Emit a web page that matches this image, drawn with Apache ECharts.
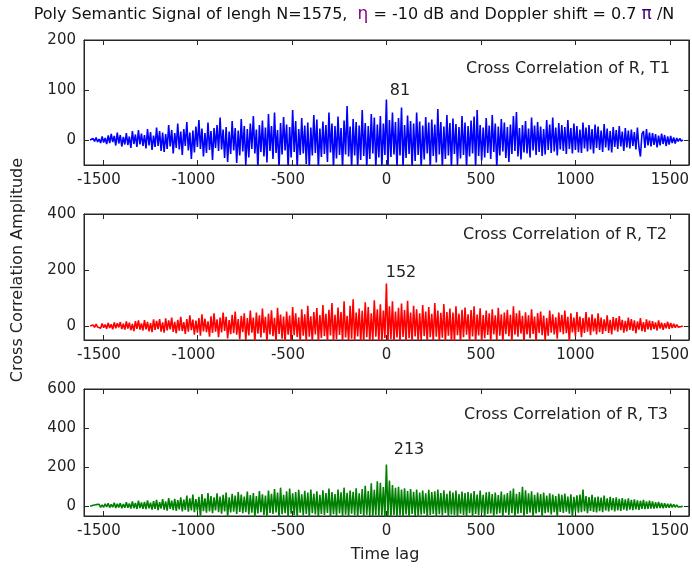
<!DOCTYPE html>
<html><head><meta charset="utf-8">
<script src="https://cdn.jsdelivr.net/npm/echarts@6/dist/echarts.min.js"></script>
<style>html,body{margin:0;padding:0;background:#fff}#c{width:692px;height:569px}</style>
</head><body><div id="c"></div>
<script>
// lag axis: first lag and spacing of the samples below
const LAG_START = -1568, LAG_STEP = 8;
const xTicks = [-1500, -1000, -500, 0, 500, 1000, 1500];
const yTicks1 = [0, 100, 200];
const yTicks2 = [0, 200, 400];
const yTicks3 = [0, 200, 400, 600];
const names = ['Cross Correlation of R, T1', 'Cross Correlation of R, T2', 'Cross Correlation of R, T3'];

const corrT1 = [
0,-2,3,-3,5,-4,2,-6,7,-5,4,-8,
9,-6,12,-4,8,-11,15,-7,10,-13,6,-9,
14,-10,7,-16,18,-8,11,-14,20,-9,13,-12,
10,-17,22,-11,16,-20,9,-14,25,-12,18,-22,
15,-24,12,-18,30,-13,20,-27,14,-16,33,-19,
17,-30,22,-12,36,-21,15,-38,19,-25,27,-14,
40,-18,23,-33,14,-26,35,-20,18,-40,24,-16,
30,-22,45,-19,21,-36,26,-44,17,-28,38,-21,
24,-46,19,-31,42,-23,28,-50,22,-35,33,-18,
48,-27,21,-56,30,-24,39,-33,25,-45,52,-22,
28,-38,55,-26,20,-56,34,-29,46,-21,31,-56,
26,-35,60,-24,38,-56,22,-30,44,-27,29,-48,
35,-56,25,-31,50,-26,41,-56,23,-34,37,-28,
30,-44,55,-25,33,-56,28,-37,47,-30,24,-56,
39,-29,68,-33,27,-56,42,-31,36,-56,29,-40,
60,-32,34,-56,28,-38,52,-27,45,-56,31,-35,
48,-56,33,-30,81,-56,40,-34,55,-29,36,-56,
44,-31,65,-56,30,-36,49,-28,38,-56,33,-42,
55,-30,37,-56,29,-39,46,-27,35,-56,41,-32,
31,-45,62,-29,36,-56,27,-38,50,-31,34,-56,
43,-28,32,-50,26,-37,48,-30,35,-56,28,-33,
39,-27,47,-56,60,-32,30,-41,25,-35,44,-26,
29,-38,50,-24,33,-56,27,-31,42,-23,35,-36,
26,-44,31,-28,48,-22,56,-33,24,-39,30,-25,
38,-27,23,-35,45,-21,29,-30,36,-24,27,-32,
22,-29,40,-20,31,-26,45,-23,25,-31,34,-19,
30,-22,26,-28,40,-18,24,-27,33,-20,28,-25,
21,-26,35,-17,25,-23,30,-19,22,-27,31,-16,
27,-20,19,-24,32,-15,23,-21,18,-25,26,-14,
20,-18,28,-13,17,-22,24,-15,19,-17,21,-12,
16,-19,25,-14,-33,12,18,-16,22,-11,15,-13,
14,-10,12,-15,9,-11,13,-8,10,-12,7,-9,
8,-6,5,-7,4,-3,3,-2,0];

const corrT2 = [
0,-3,4,-5,7,-4,3,-8,9,-6,5,-10,
11,-7,6,-12,13,-8,10,-5,14,-11,8,-13,
16,-9,12,-15,7,-18,17,-10,20,-13,9,-16,
21,-12,15,-19,10,-22,24,-14,18,-11,25,-20,
13,-24,27,-16,20,-12,30,-21,15,-26,22,-17,
33,-18,14,-28,25,-20,38,-15,23,-31,19,-24,
28,-35,42,-19,26,-22,17,-38,35,-25,45,-20,
24,-40,30,-23,48,-18,33,-44,21,-29,40,-26,
52,-31,25,-47,36,-22,45,-50,28,-34,55,-24,
30,-58,48,-27,38,-41,62,-25,33,-58,44,-30,
56,-36,29,-58,65,-28,41,-45,34,-58,52,-31,
37,-58,68,-33,45,-39,31,-58,60,-35,42,-58,
72,-38,35,-58,50,-30,64,-58,39,-43,75,-36,
44,-58,58,-34,82,-58,40,-47,66,-32,50,-58,
88,-41,36,-58,72,-45,95,-58,48,-37,62,-58,
54,-58,85,-40,68,-58,45,-52,92,-38,60,-58,
78,-58,55,-43,152,-58,70,-46,88,-58,52,-41,
65,-58,80,-39,57,-58,90,-44,48,-58,72,-37,
60,-58,45,-50,75,-36,52,-58,68,-40,44,-58,
82,-38,55,-58,47,-42,78,-58,50,-35,62,-58,
48,-58,70,-33,44,-58,58,-40,66,-31,42,-58,
57,-37,70,-58,41,-34,63,-58,39,-44,55,-32,
45,-58,60,-30,38,-51,65,-35,42,-58,48,-29,
58,-36,40,-58,70,-31,45,-38,55,-27,36,-58,
49,-30,38,-44,60,-28,34,-58,46,-25,52,-33,
37,-52,28,-35,55,-24,42,-30,31,-45,48,-22,
40,-29,55,-26,33,-58,45,-23,30,-36,50,-21,
34,-40,28,-25,50,-20,31,-33,42,-19,27,-30,
45,-22,30,-28,24,-18,38,-25,22,-30,32,-16,
28,-20,35,-15,22,-24,18,-19,30,-14,25,-17,
20,-26,16,-13,28,-18,14,-21,24,-12,19,-15,
17,-11,13,-16,20,-9,12,-14,10,-8,15,-10,
11,-7,8,-6,5,-4,3,-2,0];

const corrT3 = [
0,-3,5,-4,8,-2,10,-6,7,-5,12,-4,
15,-7,9,-5,18,-9,12,-6,16,-10,11,-8,
20,-8,14,-12,24,-10,17,-14,28,-9,19,-13,
22,-15,30,-11,18,-17,26,-13,33,-20,21,-12,
36,-18,25,-22,42,-14,29,-20,38,-24,31,-16,
45,-26,34,-19,55,-28,40,-21,60,-30,37,-23,
48,-55,62,-25,41,-33,68,-27,52,-36,45,-22,
66,-30,49,-38,58,-26,70,-55,46,-32,63,-28,
54,-40,72,-29,60,-35,50,-31,75,-42,57,-33,
68,-55,52,-37,78,-30,61,-44,55,-55,80,-34,
63,-39,88,-32,70,-55,95,-41,58,-36,76,-55,
90,-38,66,-45,72,-55,84,-33,61,-47,79,-40,
70,-55,85,-36,64,-42,77,-55,59,-39,82,-44,
68,-34,90,-55,73,-41,62,-48,86,-37,71,-55,
95,-43,69,-55,80,-38,74,-46,92,-55,66,-40,
88,-55,105,-44,78,-50,118,-55,84,-46,128,-55,
120,-48,98,-55,213,-50,132,-55,108,-45,95,-55,
100,-47,85,-55,92,-42,78,-55,88,-40,74,-50,
85,-55,70,-43,80,-38,66,-55,84,-44,72,-39,
76,-55,85,-41,68,-47,82,-36,64,-55,79,-42,
70,-45,80,-55,62,-38,75,-44,67,-55,72,-35,
66,-55,78,-40,60,-46,80,-34,58,-55,71,-39,
74,-37,62,-55,70,-41,57,-35,75,-55,60,-33,
68,-44,79,-36,90,-55,63,-38,72,-34,100,-55,
82,-40,66,-33,76,-55,58,-37,70,-31,62,-55,
70,-36,55,-32,66,-42,60,-30,52,-55,64,-29,
58,-34,65,-28,50,-38,61,-55,48,-27,56,-33,
60,-30,85,-26,52,-35,47,-24,58,-29,45,-32,
50,-25,44,-30,55,-22,40,-27,48,-20,42,-26,
45,-21,38,-24,42,-18,35,-22,40,-17,33,-20,
35,-16,30,-19,28,-14,33,-15,25,-13,29,-12,
24,-12,20,-10,22,-9,17,-11,15,-8,13,-7,
12,-6,9,-5,7,-4,5,-2,0];

const allSeries = [corrT1, corrT2, corrT3];
const yTickSets = [yTicks1, yTicks2, yTicks3];
const yMax = [200, 400, 600];
const colors = ['#0000ff', '#ff0000', '#008000'];

const FONT = 'DejaVu Sans';
const AX = '#262626';
const TXT = '#222222';

const gridsPos = [
  { top: 40, height: 125 },
  { top: 214, height: 126 },
  { top: 389, height: 127 }
];

const grid = [], xAxis = [], yAxis = [], series = [];
const fmtY = v => String(v);
// negative tick labels: digits centred on the tick, minus sign hanging to the left
const fmtX = v => v < 0 ? '{neg|' + v + '}' : '{pos|' + v + '}';
const lblFont = { color: TXT, fontFamily: FONT, fontSize: 15 };
gridsPos.forEach((g, i) => {
  grid.push({ left: 84, width: 606, top: g.top, height: g.height, show: true,
    borderColor: AX, borderWidth: 1, backgroundColor: '#fff' });
  const tickStyle = { inside: true, length: 5, lineStyle: { color: AX, width: 1 } };
  xAxis.push({ gridIndex: i, type: 'value', min: -1600, max: 1600, position: 'bottom',
    axisLine: { show: true, onZero: false, lineStyle: { color: AX } },
    axisTick: Object.assign({ customValues: xTicks }, tickStyle),
    axisLabel: Object.assign({ customValues: xTicks, formatter: fmtX, margin: 8,
      rich: { neg: Object.assign({ padding: [0, 8, 0, 0] }, lblFont), pos: Object.assign({}, lblFont) } }, lblFont),
    splitLine: { show: false } });
  xAxis.push({ gridIndex: i, type: 'value', min: -1600, max: 1600, position: 'top',
    axisLine: { show: true, onZero: false, lineStyle: { color: AX } },
    axisTick: Object.assign({ customValues: xTicks }, tickStyle),
    axisLabel: { show: false }, splitLine: { show: false } });
  yAxis.push({ gridIndex: i, type: 'value', min: -50, max: yMax[i], position: 'left',
    axisLine: { show: true, onZero: false, lineStyle: { color: AX } },
    axisTick: Object.assign({ customValues: yTickSets[i] }, tickStyle),
    axisLabel: Object.assign({ customValues: yTickSets[i], formatter: fmtY, margin: 8 }, lblFont),
    splitLine: { show: false } });
  yAxis.push({ gridIndex: i, type: 'value', min: -50, max: yMax[i], position: 'right',
    axisLine: { show: true, onZero: false, lineStyle: { color: AX } },
    axisTick: Object.assign({ customValues: yTickSets[i] }, tickStyle),
    axisLabel: { show: false }, splitLine: { show: false } });
  const vals = allSeries[i];
  series.push({ name: names[i], type: 'line', xAxisIndex: i * 2, yAxisIndex: i * 2,
    data: vals.map((v, k) => [LAG_START + k * LAG_STEP, v]),
    showSymbol: false, symbol: 'none', clip: true, silent: true,
    lineStyle: { color: colors[i], width: 1.6 } });
});

const labelPos = [
  { nx: 670, ny: 69, px: 400, py: 91 },
  { nx: 667, ny: 235, px: 401, py: 273 },
  { nx: 668, ny: 415, px: 409, py: 450 }
];
const graphic = [
  { type: 'text', x: 354, y: 15, style: {
      text: 'Poly Semantic Signal of lengh N=1575,  {eta|η} = -10 dB and Doppler shift = 0.7 {pi|π} /N',
      fontFamily: FONT, fontSize: 16, fill: '#111', align: 'center', verticalAlign: 'middle',
      rich: { eta: { fill: '#8a008a', fontFamily: FONT, fontSize: 17 }, pi: { fill: '#3a0070', fontFamily: FONT, fontSize: 17 } } } },
  { type: 'text', x: 18, y: 270, rotation: Math.PI / 2, style: {
      text: 'Cross Correlation Amplitude', fontFamily: FONT, fontSize: 16, fill: TXT,
      align: 'center', verticalAlign: 'middle' } },
  { type: 'text', x: 385, y: 555, style: {
      text: 'Time lag', fontFamily: FONT, fontSize: 16, fill: TXT, align: 'center', verticalAlign: 'middle' } }
];
labelPos.forEach((p, i) => {
  graphic.push({ type: 'text', x: p.nx, y: p.ny, style: { text: names[i], fontFamily: FONT, fontSize: 16,
    fill: TXT, align: 'right', verticalAlign: 'middle' } });
  graphic.push({ type: 'text', x: p.px, y: p.py, style: { text: String(Math.max(...allSeries[i])),
    fontFamily: FONT, fontSize: 16, fill: TXT, align: 'center', verticalAlign: 'middle' } });
});

const chart = echarts.init(document.getElementById('c'), null, { renderer: 'canvas' });
chart.setOption({ animation: false, backgroundColor: '#fff', grid, xAxis, yAxis, series, graphic });
</script>
</body></html>
